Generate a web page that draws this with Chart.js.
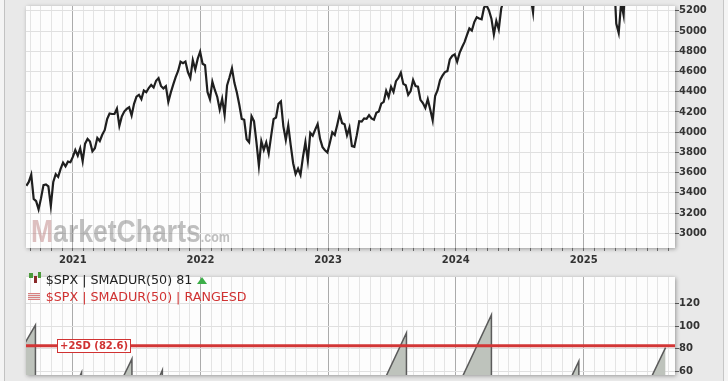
<!DOCTYPE html>
<html>
<head>
<meta charset="utf-8">
<script src="https://cdn.jsdelivr.net/npm/chart.js@4.4.1/dist/chart.umd.min.js"></script>
<style>
  html, body { margin: 0; padding: 0; }
  body { width: 728px; height: 381px; overflow: hidden; position: relative; background: #e9e9e9; font-family: "DejaVu Sans", Verdana, sans-serif; }
  #frameL { position: absolute; left: 0; top: 0; width: 4px; height: 381px; background: #f4f4f4; border-right: 1px solid #c2c2c2; }
  #frameR { position: absolute; left: 723px; top: 0; width: 5px; height: 381px; background: #f4f4f4; border-left: 1px solid #c6c6c6; }
  canvas { position: absolute; left: 0; }
  #priceChart { top: 0; }
  #durChart { top: 271px; }
  #wm { position: absolute; left: 31px; top: 215px; font: bold 32px "Liberation Sans", Arial, sans-serif; line-height: 32px; color: rgba(105,105,105,0.42); transform: scaleX(0.83); transform-origin: 0 0; white-space: nowrap; pointer-events: none; }
  #wm .m { color: rgba(190,130,130,0.5); }
  #wm .com { font-size: 15px; }
  .leg { position: absolute; left: 45.7px; font-size: 12.7px; line-height: 15px; white-space: nowrap; }
  #leg1 { top: 272.4px; color: #222; }
  #leg2 { top: 289.1px; color: #d03232; }
  .up { display: inline-block; width: 0; height: 0; border-left: 5px solid transparent; border-right: 5px solid transparent; border-bottom: 7px solid #3cae48; margin-left: 5px; vertical-align: 0px; }
  .ico { position: absolute; }
  #icoG1 { left: 29px; top: 273px; width: 4px; height: 5px; background: #4a9a3a; }
  #icoR { left: 34px; top: 276px; width: 3px; height: 7px; background: #8a2a2a; }
  #icoG2 { left: 37.5px; top: 272px; width: 3px; height: 6px; background: #4a9a3a; }
  #icoSd { left: 28px; top: 293px; width: 12px; height: 7px; background: repeating-linear-gradient(to bottom, #d98080 0px, #d98080 1px, #e8e0e0 1px, #e8e0e0 2px); }
  #sdTag { position: absolute; left: 57px; font: bold 10px "DejaVu Sans", sans-serif; color: #d03232; background: #fff; border: 1px solid #d03232; padding: 0 2px; line-height: 11.5px; white-space: nowrap; }
</style>
</head>
<body>
<div id="frameL"></div>
<div id="frameR"></div>
<canvas id="priceChart" width="728" height="270"></canvas>
<canvas id="durChart" width="728" height="110"></canvas>
<div id="wm"><span class="m">M</span>arketCharts<span class="com">.com</span></div>
<div class="ico" id="icoG1"></div><div class="ico" id="icoR"></div><div class="ico" id="icoG2"></div>
<div class="ico" id="icoSd"></div>
<div class="leg" id="leg1">$SPX | SMADUR(50) <span id="durLast"></span><span class="up"></span></div>
<div class="leg" id="leg2">$SPX | SMADUR(50) | RANGESD</div>
<div id="sdTag"></div>
<script>
// ---- data ----
// weekly closes of $SPX, one value per Friday starting at firstWeek
const firstWeek = '2020-08-21';
const close2020 = [3470, 3508, 3580, 3341, 3319, 3237, 3348, 3477, 3484, 3465, 3270, 3509, 3585, 3558, 3638, 3699, 3663, 3709, 3703, 3756];
const close2021 = [3824, 3768, 3841, 3714, 3887, 3934, 3907, 3811, 3842, 3943, 3913, 3975, 4020, 4129, 4185, 4180, 4181, 4233, 4063, 4156,
  4204, 4230, 4247, 4166, 4281, 4352, 4370, 4327, 4412, 4395, 4437, 4468, 4442, 4509, 4535, 4458, 4433, 4455, 4300, 4391,
  4471, 4545, 4605, 4697, 4682, 4698, 4595, 4538, 4712, 4620, 4725, 4796];
const close2022 = [4677, 4662, 4398, 4326, 4500, 4418, 4349, 4225, 4329, 4170, 4463, 4543, 4631, 4488, 4392, 4272, 4132, 4123, 3930, 3901,
  4158, 4109, 3901, 3667, 3912, 3825, 3899, 3790, 3962, 4130, 4145, 4280, 4305, 4058, 3924, 4067, 3873, 3693, 3586, 3640,
  3577, 3753, 3901, 3720, 3993, 3965, 4026, 4080, 3934, 3852, 3822, 3800];
const close2023 = [3895, 3999, 3973, 4071, 4179, 4090, 4079, 3970, 4046, 3862, 3855, 3971, 4109, 4105, 4137, 4133, 4169, 4136, 4124, 4192,
  4205, 4282, 4299, 4410, 4348, 4450, 4399, 4505, 4536, 4589, 4478, 4464, 4370, 4406, 4516, 4457, 4450, 4320, 4288, 4240,
  4327, 4224, 4117, 4358, 4415, 4514, 4559, 4595, 4604, 4719, 4755, 4770];
const close2024 = [4697, 4784, 4840, 4891, 4959, 5027, 5006, 5089, 5137, 5124, 5117, 5234, 5254, 5204, 5123, 4967, 5100, 5018, 5223, 5303,
  5305, 5278, 5347, 5431, 5465, 5460, 5567, 5615, 5505, 5459, 5346, 5186, 5554, 5634, 5648, 5408, 5626, 5703, 5738, 5751,
  5815, 5864, 5808, 5729, 5995, 5870, 5969, 6032, 6090, 6051, 5867, 5970];
const close2025 = [5942, 5827, 5997, 6101, 6041, 6026, 6115, 6013, 5955, 5770, 5522, 5667, 5581, 5074, 4982, 5283, 5158, 5686, 5660, 5958,
  5803, 5912, 6000, 5977, 5968, 6173, 6280, 6260, 6297, 6389, 6238, 6389, 6450, 6467];

// SMADUR(50): each run climbs from 0 at its start to its peak, then resets
const runStart = ['2020-03-10', '2020-11-02', '2021-03-01', '2021-06-22', '2023-03-24', '2023-10-29', '2024-09-05', '2025-04-20'];
const runEnd   = ['2020-09-16', '2021-01-26', '2021-06-19', '2021-09-14', '2023-08-13', '2024-04-12', '2024-12-18', '2025-08-23'];
const runPeak  = [101, 59, 71, 61, 94, 110, 69, 81];
const sdLevel = 82.6;

const priceTicks = [3000, 3200, 3400, 3600, 3800, 4000, 4200, 4400, 4600, 4800, 5000, 5200];
const durTicks = [60, 80, 100, 120];
const viewStart = '2020-08-20';
const viewEnd = '2025-09-19';

// ---- helpers ----
const EPOCH = Date.UTC(2021, 0, 1);
const DAY = 86400000;
const dayNum = s => (Date.parse(s + 'T00:00:00Z') - EPOCH) / DAY;
const xMin = dayNum(viewStart), xMax = dayNum(viewEnd);

const closes = [].concat(close2020, close2021, close2022, close2023, close2024, close2025);
const w0 = dayNum(firstWeek);
const pricePoints = closes.map((v, i) => ({ x: w0 + 7 * i, y: v }));

const durPoints = [];
runStart.forEach((s, i) => {
  durPoints.push({ x: dayNum(s), y: 0 }, { x: dayNum(runEnd[i]), y: runPeak[i] });
  if (i < runStart.length - 1) durPoints.push({ x: dayNum(runEnd[i]), y: 0 });
});

function monthTicks() {
  const out = [];
  for (let y = 2020; y <= 2025; y++) {
    for (let m = 0; m < 12; m++) {
      const d = (Date.UTC(y, m, 1) - EPOCH) / DAY;
      if (d >= xMin && d <= xMax) out.push({ value: d, year: m === 0 ? y : null });
    }
  }
  return out;
}

Chart.defaults.font.family = '"DejaVu Sans", Verdana, sans-serif';

const plotBg = {
  id: 'plotBg',
  beforeDraw(chart) {
    const { ctx, chartArea: a } = chart;
    ctx.save();
    ctx.shadowColor = 'rgba(0,0,0,0.35)';
    ctx.shadowBlur = 4;
    ctx.shadowOffsetX = 1;
    ctx.shadowOffsetY = 1;
    ctx.fillStyle = '#fdfdfd';
    ctx.fillRect(a.left, a.top, a.right - a.left, a.bottom - a.top);
    ctx.restore();
  }
};

function xScale(showLabels) {
  return {
    type: 'linear',
    min: xMin,
    max: xMax,
    afterBuildTicks: s => { s.ticks = monthTicks(); },
    afterFit: s => { s.height = showLabels ? 22 : 0; },
    border: { display: false },
    grid: {
      color: c => (c.tick && c.tick.year ? '#ababab' : '#e4e4e4'),
      tickColor: '#666',
      drawTicks: showLabels,
      tickLength: 3
    },
    ticks: {
      display: showLabels,
      autoSkip: false,
      maxRotation: 0,
      padding: 3,
      color: '#333',
      font: { size: 10, weight: 'bold' },
      callback: (v, i, ticks) => (ticks[i].year ? String(ticks[i].year) : '')
    }
  };
}

function yScale(min, max, tickList) {
  return {
    position: 'right',
    min: min,
    max: max,
    afterBuildTicks: s => { s.ticks = tickList.map(v => ({ value: v })); },
    afterFit: s => { s.width = 53; },
    border: { display: false },
    grid: { color: '#e0e0e0', tickColor: '#555', tickLength: 4 },
    ticks: { padding: 0, color: '#333', font: { size: 10, weight: 'bold' }, callback: v => String(v) }
  };
}

new Chart(document.getElementById('priceChart'), {
  type: 'line',
  data: {
    datasets: [{
      label: '$SPX',
      data: pricePoints,
      borderColor: '#1f1f1f',
      borderWidth: 2.2,
      pointRadius: 0,
      tension: 0
    }]
  },
  options: {
    responsive: false,
    animation: false,
    layout: { padding: { left: 26, top: 0, right: 0, bottom: 0 }, autoPadding: false },
    plugins: { legend: { display: false }, tooltip: { enabled: false } },
    scales: { x: xScale(true), y: yScale(2855, 5248, priceTicks) }
  },
  plugins: [plotBg]
});

const durChart = new Chart(document.getElementById('durChart'), {
  type: 'line',
  data: {
    datasets: [{
      label: 'RANGESD',
      data: [{ x: xMin, y: sdLevel }, { x: xMax, y: sdLevel }],
      borderColor: '#d23636',
      borderWidth: 3,
      pointRadius: 0
    }, {
      label: 'SMADUR(50)',
      data: durPoints,
      borderColor: '#5b5b5b',
      borderWidth: 1.5,
      backgroundColor: '#bec3bc',
      fill: 'origin',
      pointRadius: 0,
      tension: 0
    }]
  },
  options: {
    responsive: false,
    animation: false,
    layout: { padding: { left: 26, top: 0, right: 0, bottom: 0 }, autoPadding: false },
    plugins: { legend: { display: false }, tooltip: { enabled: false } },
    scales: { x: xScale(false), y: yScale(56.6, 143.8, durTicks) }
  },
  plugins: [plotBg]
});

document.getElementById('durLast').textContent = runPeak[runPeak.length - 1];
const tag = document.getElementById('sdTag');
tag.textContent = '+2SD (' + sdLevel.toFixed(1) + ')';
tag.style.top = (271 + durChart.scales.y.getPixelForValue(sdLevel) - 6.5) + 'px';
</script>
</body>
</html>
